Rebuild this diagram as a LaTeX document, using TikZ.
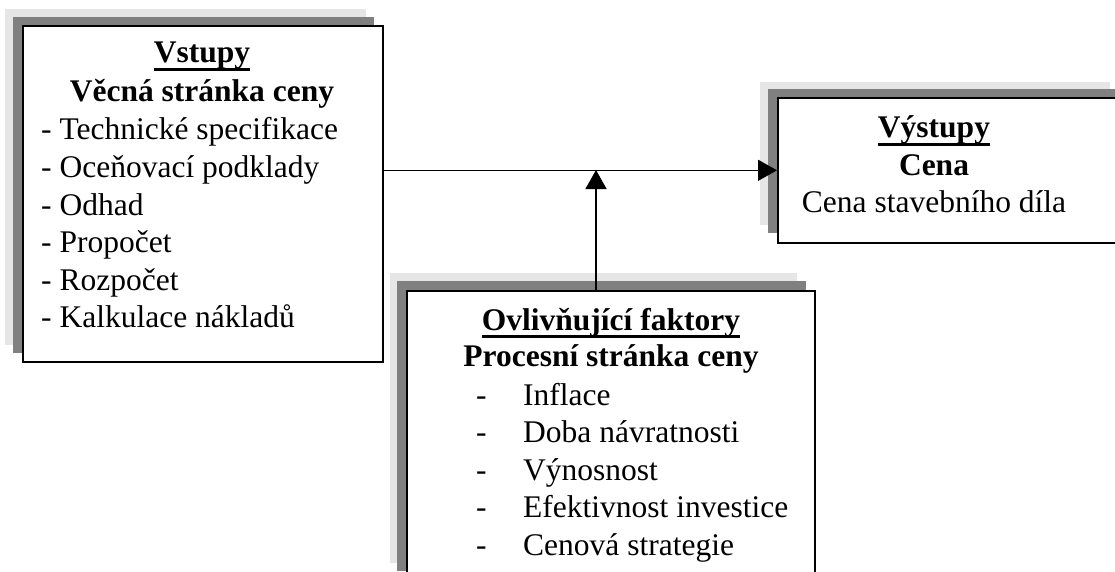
\documentclass[tikz,border=0pt]{standalone}
\usepackage{fontspec}
\setmainfont{Liberation Serif}
\usetikzlibrary{arrows.meta}
\definecolor{shdark}{RGB}{128,128,128}
\definecolor{shlight}{RGB}{230,230,230}
\newcommand\ulin[1]{\setbox0\hbox{#1}\rlap{\rule[-8pt]{\wd0}{2.6pt}}\box0}
\tikzset{
  boxnode/.style={draw=black, line width=1.6pt, fill=white, anchor=north west, inner sep=0pt},
  darksh/.style={fill=shdark},
  lightsh/.style={fill=shlight},
  txt/.style={inner sep=0pt, font=\fontsize{31.5}{37.5}\selectfont},
  conn/.style={line width=1.4pt, -{Triangle[length=19pt,width=21pt]}}
}
\begin{document}
\begin{tikzpicture}[x=1pt,y=-1pt]
\useasboundingbox (0,0) rectangle (1115,572);
\clip (0,0) rectangle (1115,572);
% shadows
\fill[lightsh] (5,9) rectangle (366,345);
\fill[darksh] (13,17) rectangle (374,353);
\fill[lightsh] (390,273) rectangle (797,563);
\fill[darksh] (397,281) rectangle (806,571);
\fill[lightsh] (760,82) rectangle (1110,225);
\fill[darksh] (768,89) rectangle (1119,233);
% boxes
\node[boxnode, minimum width=360pt, minimum height=336pt] (in) at (22,25) {};
\node[boxnode, minimum width=408pt, minimum height=300pt] (mid) at (406,290) {};
\node[boxnode, minimum width=350pt, minimum height=145pt] (out) at (777,97) {};
% texts
\node[txt, anchor=base] (intitle) at (202,63)
  {\begin{tabular}[t]{@{}c@{}}\ulin{\textbf{Vstupy}}\\[1.5pt]\textbf{Věcná stránka ceny}\end{tabular}};
\node[txt, anchor=base west] (inlist) at (41,140)
  {\begin{tabular}[t]{@{}l@{}}- Technické specifikace\\- Oceňovací podklady\\- Odhad\\- Propočet\\- Rozpočet\\- Kalkulace nákladů\end{tabular}};
\node[txt, anchor=base] (midtitle) at (611,330)
  {\begin{tabular}[t]{@{}c@{}}\ulin{\textbf{Ovlivňující faktory}}\\[-1.5pt]\textbf{Procesní stránka ceny}\end{tabular}};
\node[txt, anchor=base west] (midlist) at (476,405)
  {\begin{tabular}[t]{@{}l@{}}\makebox[47pt][l]{-}Inflace\\\makebox[47pt][l]{-}Doba návratnosti\\\makebox[47pt][l]{-}Výnosnost\\\makebox[47pt][l]{-}Efektivnost investice\\\makebox[47pt][l]{-}Cenová strategie\end{tabular}};
\node[txt, anchor=base] (outtext) at (934,138)
  {\begin{tabular}[t]{@{}c@{}}\ulin{\textbf{Výstupy}}\\\textbf{Cena}\\Cena stavebního díla\end{tabular}};
% connectors
\coordinate (j) at (596,170);
\draw[conn] (out.west -| in.east) -- (out.west);
\draw[conn] (mid.north -| j) -- (j);
\end{tikzpicture}
\end{document}
